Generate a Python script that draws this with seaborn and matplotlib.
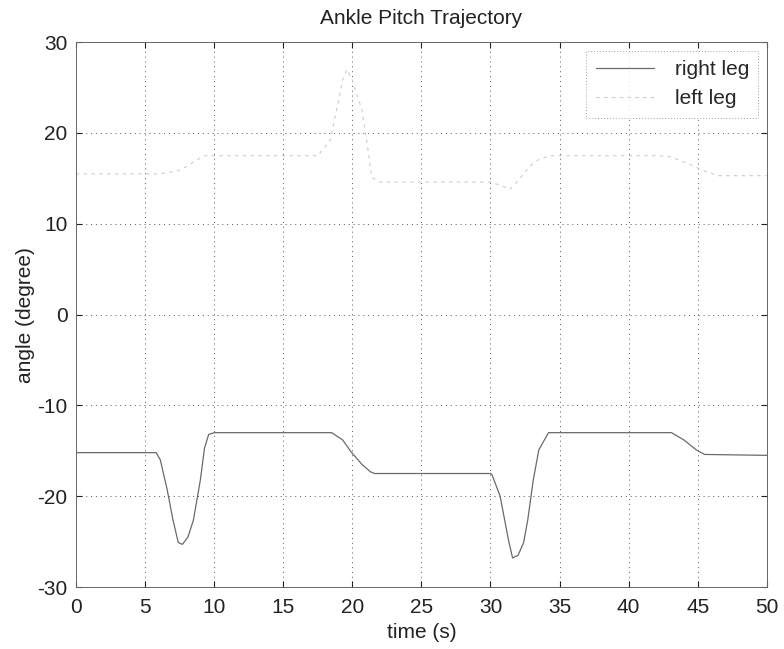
import numpy as np
import pandas as pd
import seaborn as sns
import matplotlib.pyplot as plt

# right leg (lower curve)
right_t = [0, 5.8, 6.1, 6.6, 7.0, 7.4, 7.7, 8.1, 8.5, 9.0, 9.3, 9.6, 10.0,
           18.5, 19.3, 19.9, 20.7, 21.3, 21.6, 30.0, 30.1, 30.7, 31.3, 31.6,
           32.0, 32.4, 32.7, 33.1, 33.5, 34.2, 43.1, 44.0, 44.9, 45.5, 50.0]
right_deg = [-15.2, -15.2, -16.0, -19.3, -22.5, -25.1, -25.3, -24.5, -22.6, -18.2, -14.7, -13.2, -13.0,
             -13.0, -13.8, -15.1, -16.5, -17.3, -17.5, -17.5, -17.6, -20.0, -24.8, -26.8,
             -26.5, -25.1, -22.6, -18.2, -14.9, -13.0, -13.0, -13.8, -14.9, -15.4, -15.5]

# left leg (upper curve), very faint in the scan
left_t = [0, 6.0, 7.3, 8.0, 8.7, 9.3, 10.0, 17.5, 18.4, 19.0, 19.3, 19.6, 20.0,
          20.7, 21.1, 21.4, 22.0, 30.0, 30.8, 31.4, 31.8, 32.4, 32.9, 33.5, 34.4,
          41.9, 43.0, 44.5, 45.5, 46.5, 50.0]
left_deg = [15.5, 15.5, 15.8, 16.3, 17.0, 17.5, 17.5, 17.5, 19.2, 23.5, 25.9, 27.0, 25.8,
            22.5, 18.5, 15.1, 14.6, 14.6, 14.2, 13.8, 14.4, 15.5, 16.4, 17.1, 17.5,
            17.5, 17.4, 16.5, 15.8, 15.3, 15.3]

df = pd.concat([
    pd.DataFrame({"t": right_t, "deg": right_deg, "leg": "right leg"}),
    pd.DataFrame({"t": left_t, "deg": left_deg, "leg": "left leg"}),
])

sns.set_style("white")
plt.rcParams['font.family'] = ['Liberation Sans', 'DejaVu Sans']
plt.rcParams['axes.unicode_minus'] = False

fs = 15
fig = plt.figure(figsize=(7.84, 6.49), dpi=100)
ax = fig.add_axes([0.097, 0.0955, 0.881, 0.8395])

sns.lineplot(data=df[df.leg == "right leg"], x="t", y="deg", ax=ax, color="#6a6a6a",
             lw=0.9, label="right leg", sort=False, estimator=None)
sns.lineplot(data=df[df.leg == "left leg"], x="t", y="deg", ax=ax, color="#cccccc",
             lw=0.8, ls=(0, (3, 4)), label="left leg", sort=False, estimator=None)

ax.set_xlim(0, 50)
ax.set_ylim(-30, 30)
ax.set_xticks(range(0, 51, 5))
ax.set_yticks(range(-30, 31, 10))
ax.grid(True, ls=(0, (1, 4)), color="#555555", lw=0.7)
ax.tick_params(direction="in", length=4, labelsize=fs, colors="#222222",
               top=True, right=True, bottom=True, left=True)
ax.tick_params(axis="x", pad=8)
ax.tick_params(axis="y", pad=6)
for s in ax.spines.values():
    s.set_color("#666666")
    s.set_linewidth(0.7)

ax.set_title("Ankle Pitch Trajectory", fontsize=fs, color="#222222", pad=13)
ax.set_xlabel("time (s)", fontsize=fs, color="#222222", labelpad=4)
ax.set_ylabel("angle (degree)", fontsize=fs, color="#222222", labelpad=2)

leg = ax.legend(loc="upper right", fontsize=fs, frameon=True, fancybox=False,
                borderaxespad=0.4, handlelength=2.8, borderpad=0.45,
                labelspacing=0.5, handletextpad=1.0)
leg.get_frame().set_edgecolor("#888888")
leg.get_frame().set_linestyle((0, (1, 2)))
leg.get_frame().set_linewidth(0.7)

fig.savefig("out.png", dpi=100)
